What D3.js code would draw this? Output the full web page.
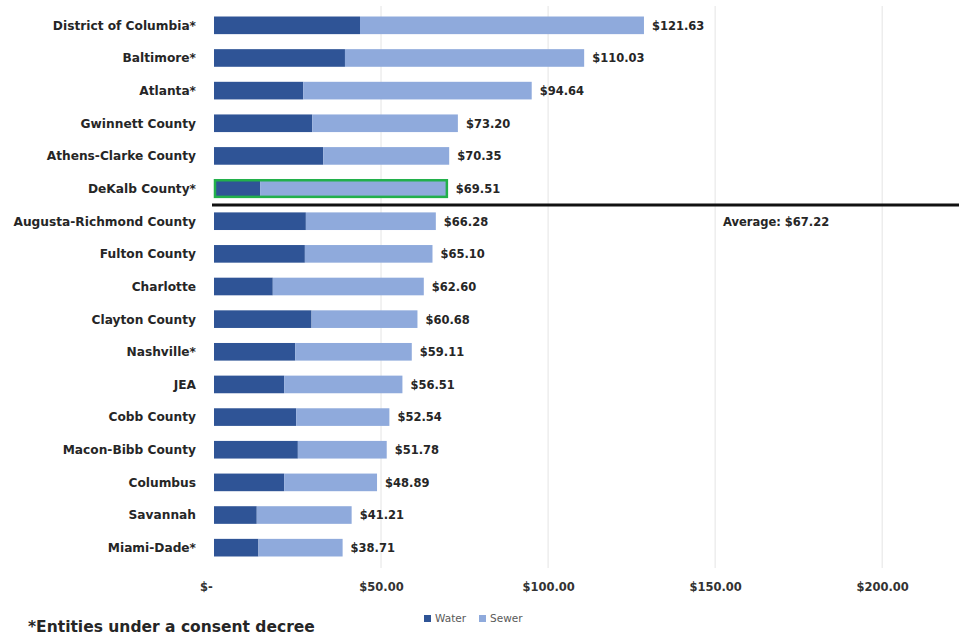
<!DOCTYPE html>
<html>
<head>
<meta charset="utf-8">
<script src="https://cdn.jsdelivr.net/npm/d3@7"></script>
<style>
  body { margin: 0; background: #fff; }
</style>
</head>
<body>
<div id="vis"></div>
<script>
var width = 959;
var height = 637;

var entities = ["District of Columbia*", "Baltimore*", "Atlanta*", "Gwinnett County",
  "Athens-Clarke County", "DeKalb County*", "Augusta-Richmond County", "Fulton County",
  "Charlotte", "Clayton County", "Nashville*", "JEA", "Cobb County", "Macon-Bibb County",
  "Columbus", "Savannah", "Miami-Dade*"];
var water = [43.7, 39.2, 26.7, 29.4, 32.7, 13.8, 27.5, 27.2, 17.6, 29.2, 24.3, 21.0, 24.6, 25.1, 21.0, 12.8, 13.3];
var sewer = [85.0, 71.6, 68.4, 43.6, 37.7, 56.2, 38.9, 38.2, 45.2, 31.7, 34.9, 35.4, 27.9, 26.6, 27.8, 28.4, 25.2];
var totalLabels = ["$121.63", "$110.03", "$94.64", "$73.20", "$70.35", "$69.51", "$66.28", "$65.10",
  "$62.60", "$60.68", "$59.11", "$56.51", "$52.54", "$51.78", "$48.89", "$41.21", "$38.71"];
var ticks = [0, 50, 100, 150, 200];
var average = 67.22;
var highlight = "DeKalb County*";

var waterColor = "#2f5496";
var sewerColor = "#8faadc";
var font = "'DejaVu Sans', sans-serif";

var svg = d3.select("#vis").append("svg")
  .attr("width", width)
  .attr("height", height)
  .style("font-family", font);

var x = d3.scaleLinear()
  .domain([0, 223])
  .range([214, 959]);

var y = d3.scaleBand()
  .domain(entities)
  .range([9, 564])
  .paddingInner(0.46)
  .paddingOuter(0.23);

// gridlines
svg.append("g")
  .selectAll("line")
  .data(ticks.slice(1))
  .enter().append("line")
  .attr("x1", d => x(d)).attr("x2", d => x(d))
  .attr("y1", 6).attr("y2", 568)
  .style("stroke", "#e4e4e4")
  .style("stroke-width", 1);

// axis labels
var xAxis = d3.axisBottom(x)
  .tickValues(ticks)
  .tickSize(0)
  .tickPadding(0)
  .tickFormat(d => d === 0 ? "$-" : "$" + d3.format(".2f")(d));

var axisG = svg.append("g")
  .attr("transform", "translate(0, 583)")
  .call(xAxis);
axisG.select(".domain").remove();
axisG.selectAll("text")
  .style("font-family", font)
  .style("font-size", "11.5px")
  .style("font-weight", "bold")
  .style("fill", "#333");
axisG.selectAll(".tick").filter(d => d === 0).select("text").attr("dx", -8);

var rows = entities.map((e, i) => ({ name: e, water: water[i], sewer: sewer[i], label: totalLabels[i] }));

var bars = svg.append("g");
bars.selectAll(".water")
  .data(rows)
  .enter().append("rect")
  .attr("class", "water")
  .attr("x", x(0))
  .attr("y", d => y(d.name))
  .attr("width", d => x(d.water) - x(0))
  .attr("height", y.bandwidth())
  .style("fill", waterColor);

bars.selectAll(".sewer")
  .data(rows)
  .enter().append("rect")
  .attr("class", "sewer")
  .attr("x", d => x(d.water))
  .attr("y", d => y(d.name))
  .attr("width", d => x(d.water + d.sewer) - x(d.water))
  .attr("height", y.bandwidth())
  .style("fill", sewerColor);

// highlight box
var hl = rows.find(d => d.name === highlight);
svg.append("rect")
  .attr("x", x(0) + 1)
  .attr("y", y(hl.name) + 0.5)
  .attr("width", x(hl.water + hl.sewer) - x(0) - 2)
  .attr("height", y.bandwidth() - 1)
  .style("fill", "none")
  .style("stroke", "#22b04b")
  .style("stroke-width", 2.5);

// value labels
svg.append("g").selectAll("text")
  .data(rows)
  .enter().append("text")
  .attr("x", d => x(d.water + d.sewer) + 8)
  .attr("y", d => y(d.name) + y.bandwidth() / 2)
  .attr("dy", "0.38em")
  .style("font-size", "11.5px")
  .style("font-weight", "bold")
  .style("fill", "#262626")
  .text(d => d.label);

// category labels
svg.append("g").selectAll("text")
  .data(rows)
  .enter().append("text")
  .attr("x", 196)
  .attr("y", d => y(d.name) + y.bandwidth() / 2)
  .attr("dy", "0.36em")
  .attr("text-anchor", "end")
  .style("font-size", "12.2px")
  .style("font-weight", "bold")
  .style("fill", "#262626")
  .text(d => d.name);

// average line between DeKalb and Augusta rows
var avgY = (y("DeKalb County*") + y.bandwidth() + y("Augusta-Richmond County")) / 2;
svg.append("line")
  .attr("x1", 212).attr("x2", width)
  .attr("y1", avgY).attr("y2", avgY)
  .style("stroke", "#111")
  .style("stroke-width", 3);

svg.append("text")
  .attr("x", 723)
  .attr("y", avgY + 21)
  .style("font-size", "11.5px")
  .style("font-weight", "bold")
  .style("fill", "#262626")
  .text("Average: $" + d3.format(".2f")(average));

// legend
var legend = svg.append("g").attr("transform", "translate(424, 622)");
[["Water", waterColor], ["Sewer", sewerColor]].forEach((s, i) => {
  var g = legend.append("g").attr("transform", `translate(${i * 55}, 0)`);
  g.append("rect").attr("x", 0).attr("y", -7).attr("width", 7).attr("height", 7).style("fill", s[1]);
  g.append("text").attr("x", 11).attr("y", 0)
    .style("font-size", "10.5px").style("fill", "#595959").text(s[0]);
});

// footnote
svg.append("text")
  .attr("x", 28)
  .attr("y", 632)
  .style("font-family", font)
  .style("font-size", "15.5px")
  .style("font-weight", "bold")
  .style("fill", "#262626")
  .text("*Entities under a consent decree");
</script>
</body>
</html>
